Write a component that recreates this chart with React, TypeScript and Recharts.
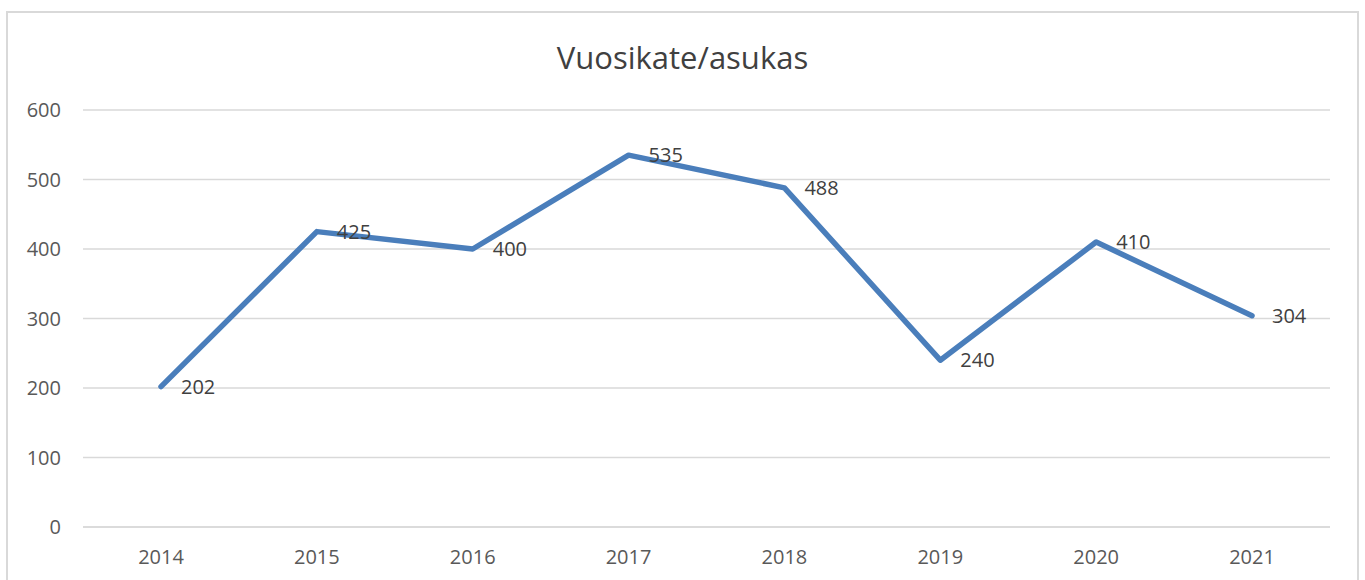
import { LineChart, Line, XAxis, YAxis, CartesianGrid, LabelList } from "recharts";

const years = ["2014", "2015", "2016", "2017", "2018", "2019", "2020", "2021"];
const vuosikate = [202, 425, 400, 535, 488, 240, 410, 304];
const yTicks = [0, 100, 200, 300, 400, 500, 600];

const data = years.map((year, i) => ({ year, value: vuosikate[i] }));

const font = "'Open Sans', 'Liberation Sans', sans-serif";

const App = () => {
  return (
    <div style={{ position: "absolute", left: 0, top: 0, width: 1365, height: 580, overflow: "hidden", background: "#fff" }}>
      <div
        style={{
          position: "absolute",
          left: 6,
          top: 11,
          width: 1353,
          height: 580,
          border: "2px solid #d9d9d9",
          boxSizing: "border-box",
        }}
      />
      <div
        style={{
          position: "absolute",
          left: 0,
          top: 35,
          width: 1365,
          textAlign: "center",
          fontFamily: font,
          fontSize: 31,
          lineHeight: "44px",
          color: "#404040",
        }}
      >
        Vuosikate/asukas
      </div>
      <div style={{ position: "absolute", left: 0, top: 0 }}>
        <LineChart width={1365} height={580} data={data} margin={{ top: 110, right: 35, bottom: 23, left: 0 }}>
          <CartesianGrid vertical={false} stroke="#d9d9d9" strokeWidth={1.5} />
          <XAxis
            dataKey="year"
            padding={{ left: 78, right: 78 }}
            axisLine={{ stroke: "#d9d9d9", strokeWidth: 1.5 }}
            tickLine={false}
            tickSize={0}
            tickMargin={23}
            tick={{ fill: "#595959", fontSize: 20, fontFamily: font }}
          />
          <YAxis
            width={83}
            domain={[0, 600]}
            ticks={yTicks}
            axisLine={false}
            tickLine={false}
            tickSize={0}
            tickMargin={22}
            tick={{ fill: "#595959", fontSize: 20, fontFamily: font }}
          />
          <Line
            type="linear"
            dataKey="value"
            stroke="#4a7ebb"
            strokeWidth={5.5}
            strokeLinecap="round"
            strokeLinejoin="round"
            dot={false}
            isAnimationActive={false}
          >
            <LabelList
              dataKey="value"
              position="right"
              offset={20}
              style={{ fill: "#404040", fontSize: 20, fontFamily: font }}
            />
          </Line>
        </LineChart>
      </div>
    </div>
  );
};

export default App;
